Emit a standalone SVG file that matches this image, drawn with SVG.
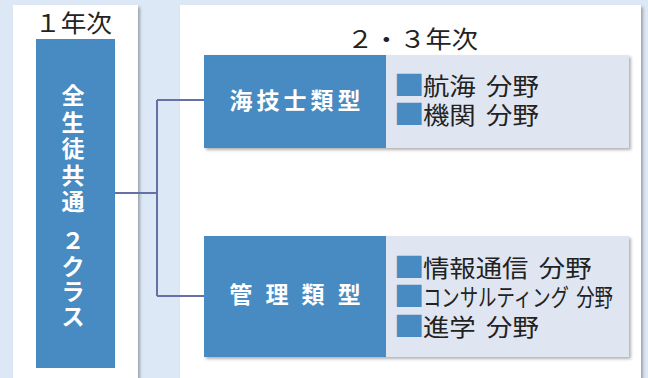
<svg xmlns="http://www.w3.org/2000/svg" width="648" height="378" viewBox="0 0 648 378">
  <defs>
    <filter id="sh" x="-5%" y="-5%" width="115%" height="115%">
      <feDropShadow dx="2" dy="2" stdDeviation="1.5" flood-color="#000" flood-opacity="0.3"/>
    </filter>
    <style>
      text { font-family: "Noto Sans CJK JP", "Noto Sans", sans-serif; }
      .panel { fill: #ffffff; filter: url(#sh); }
      .head { font-size: 24px; fill: #222222; }
      .blue { fill: #478BC2; }
      .light { fill: #DFE6F1; }
      .wlabel { font-size: 23px; font-weight: bold; fill: #ffffff; letter-spacing: 4px; }
      .vchar { font-size: 23px; font-weight: bold; fill: #ffffff; text-anchor: middle; }
      .item { font-size: 24px; fill: #222222; word-spacing: 4px; }
      .sq { fill: #478BC2; font-size: 28px; }
      .conn { fill: none; stroke: #6470A6; stroke-width: 2; }
    </style>
  </defs>
  <rect x="0" y="0" width="648" height="378" fill="#DCE8F5"/>

  <g id="panel-year1">
    <rect class="panel" x="13" y="5" width="125" height="380"/>
    <text class="head" x="35" y="32" textLength="77" lengthAdjust="spacingAndGlyphs">１年次</text>
  </g>
  <g id="panel-year23">
    <rect class="panel" x="180" y="5" width="461" height="380"/>
    <text class="head" x="347" y="48" textLength="131" lengthAdjust="spacingAndGlyphs">２・３年次</text>
  </g>

  <g id="connectors">
    <path class="conn" d="M115,193 H157 M157,100 V296 M157,100 H204 M157,296 H204"/>
  </g>

  <g id="node-all">
    <rect class="blue" x="36" y="39" width="79" height="329"/>
    <text class="vchar" x="73" y="103.5">全</text>
    <text class="vchar" x="73" y="131">生</text>
    <text class="vchar" x="73" y="157">徒</text>
    <text class="vchar" x="73" y="183.5">共</text>
    <text class="vchar" x="73" y="209.5">通</text>
    <text class="vchar" x="73" y="249">２</text>
    <text class="vchar" x="73" y="275">ク</text>
    <text class="vchar" x="73" y="299.5">ラ</text>
    <text class="vchar" x="73" y="324.5">ス</text>
  </g>

  <g id="node-kaigishi">
    <rect class="light" x="204" y="55" width="425" height="93" filter="url(#sh)"/>
    <rect class="blue" x="204" y="55" width="182" height="93"/>
    <text class="wlabel" x="297" y="109" text-anchor="middle">海技士類型</text>
    <text class="item" transform="translate(393.7,94.5) scale(1.1,1)"><tspan class="sq" dy="1">■</tspan><tspan dx="-1.4" dy="-1">航海 分野</tspan></text>
    <text class="item" transform="translate(393.7,123.5) scale(1.1,1)"><tspan class="sq" dy="1">■</tspan><tspan dx="-1.4" dy="-1">機関 分野</tspan></text>
  </g>

  <g id="node-kanri">
    <rect class="light" x="204" y="236" width="425" height="121" filter="url(#sh)"/>
    <rect class="blue" x="204" y="236" width="182" height="121"/>
    <text class="wlabel" x="297" y="303" text-anchor="middle">管 理 類 型</text>
    <text class="item" transform="translate(393.7,276.5) scale(1.1,1)"><tspan class="sq" dy="1">■</tspan><tspan dx="-1.4" dy="-1">情報通信 分野</tspan></text>
    <text class="item" transform="translate(393.7,306) scale(1.1,1)"><tspan class="sq" dy="1">■</tspan><tspan dx="-1.4" dy="-1" textLength="172.7" lengthAdjust="spacingAndGlyphs">コンサルティング 分野</tspan></text>
    <text class="item" transform="translate(393.7,336) scale(1.1,1)"><tspan class="sq" dy="1">■</tspan><tspan dx="-1.4" dy="-1">進学 分野</tspan></text>
  </g>
</svg>
